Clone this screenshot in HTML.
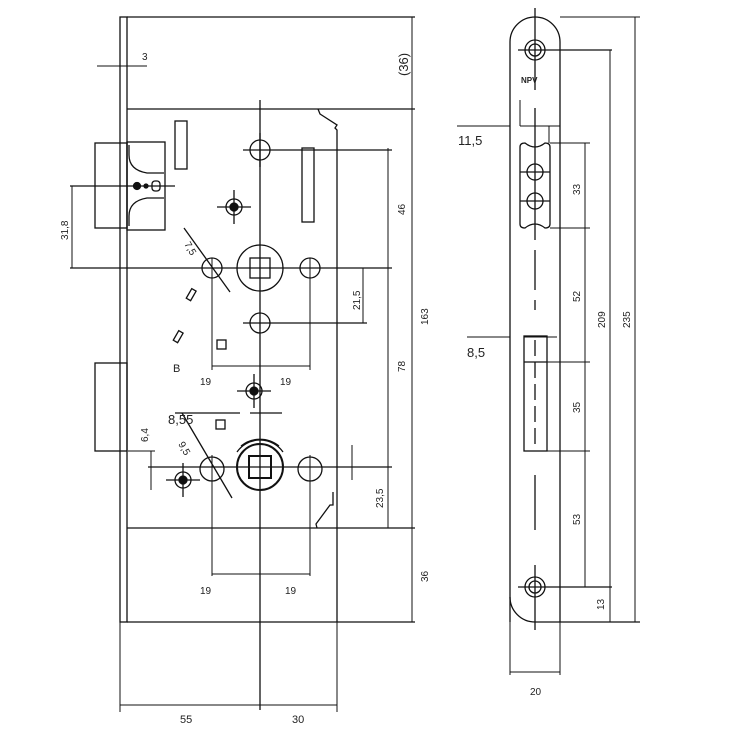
<!DOCTYPE html>
<html><head><style>body{margin:0;background:#fff}svg{display:block}text{font-family:"Liberation Sans",sans-serif;fill:#222}</style></head><body>
<svg width="735" height="735" viewBox="0 0 735 735" xmlns="http://www.w3.org/2000/svg" stroke="#111" fill="none" stroke-width="1.3">
<rect x="120" y="17" width="7" height="605" fill="#fff"/>
<line x1="127" y1="17" x2="415" y2="17"/>
<line x1="127" y1="109" x2="415" y2="109"/>
<line x1="127" y1="528" x2="415" y2="528"/>
<line x1="127" y1="622" x2="415" y2="622"/>
<polyline points="318,109 320,114 337,125 335,128 337,130 337,622"/>
<polyline points="317,528 316,524 330,505 333,505 333,492"/>
<rect x="95" y="143" width="32" height="85"/>
<rect x="127" y="142" width="38" height="88"/>
<path d="M129 145 v10 q0 15 18 18 h17 M129 226 v-10 q0 -15 18 -18 h17"/>
<circle cx="137" cy="186" r="3.5" fill="#111"/><circle cx="146" cy="186" r="2" fill="#111"/><rect x="152" y="181" width="8" height="10" rx="3"/>
<rect x="95" y="363" width="32" height="88"/>
<rect x="175" y="121" width="12" height="48"/>
<rect x="302" y="148" width="12" height="74"/>
<line x1="260" y1="100" x2="260" y2="710"/>
<line x1="70" y1="268" x2="392" y2="268"/>
<line x1="70" y1="186" x2="175" y2="186"/>
<line x1="148" y1="467" x2="392" y2="467"/>
<line x1="243" y1="150" x2="392" y2="150"/>
<line x1="243" y1="323" x2="367" y2="323"/>
<circle cx="260" cy="150" r="10"/><line x1="260" y1="133" x2="260" y2="167"/>
<circle cx="234" cy="207" r="8"/><circle cx="234" cy="207" r="4" fill="#111"/><line x1="217" y1="207" x2="251" y2="207"/><line x1="234" y1="190" x2="234" y2="224"/>
<circle cx="260" cy="268" r="23"/><rect x="250" y="258" width="20" height="20"/>
<circle cx="212" cy="268" r="10"/><circle cx="310" cy="268" r="10"/>
<circle cx="260" cy="323" r="10"/>
<circle cx="254" cy="391" r="8"/><circle cx="254" cy="391" r="4" fill="#111"/><line x1="237" y1="391" x2="271" y2="391"/><line x1="254" y1="374" x2="254" y2="408"/>
<circle cx="260" cy="467" r="23" stroke-width="2"/><rect x="249" y="456" width="22" height="22" stroke-width="2"/>
<path d="M237 452 a28 28 0 0 1 46 0 M241 446 a30 30 0 0 1 38 0"/>
<circle cx="212" cy="469" r="12"/><circle cx="310" cy="469" r="12"/>
<circle cx="183" cy="480" r="8"/><circle cx="183" cy="480" r="4" fill="#111"/><line x1="166" y1="480" x2="200" y2="480"/><line x1="183" y1="463" x2="183" y2="497"/>
<rect x="189" y="289" width="5" height="11" transform="rotate(30 191 294)"/>
<rect x="176" y="331" width="5" height="11" transform="rotate(30 178 336)"/>
<rect x="217" y="340" width="9" height="9"/><rect x="216" y="420" width="9" height="9"/>
<line x1="184" y1="228" x2="230" y2="292"/><line x1="182" y1="413" x2="232" y2="498"/>
<line x1="175" y1="413" x2="240" y2="413"/><line x1="250" y1="413" x2="282" y2="413"/>
<g stroke-width="1">
<line x1="212" y1="258" x2="212" y2="370"/><line x1="310" y1="258" x2="310" y2="370"/><line x1="212" y1="366" x2="310" y2="366"/>
<line x1="212" y1="455" x2="212" y2="576"/><line x1="310" y1="455" x2="310" y2="576"/><line x1="212" y1="574" x2="310" y2="574"/>
<line x1="388" y1="148" x2="388" y2="528"/><line x1="412" y1="17" x2="412" y2="622"/><line x1="363" y1="268" x2="363" y2="323"/>
<line x1="352" y1="445" x2="352" y2="480"/>
<line x1="120" y1="622" x2="120" y2="712"/><line x1="337" y1="622" x2="337" y2="712"/>
<line x1="120" y1="705" x2="337" y2="705"/>
<line x1="97" y1="66" x2="147" y2="66"/>
<line x1="72" y1="186" x2="72" y2="268"/>
<line x1="151" y1="451" x2="151" y2="490"/><line x1="128" y1="451" x2="155" y2="451"/>
</g>
<g stroke="none" font-size="10">
<text x="142" y="60">3</text>
<text x="200" y="385">19</text><text x="280" y="385">19</text>
<text x="200" y="594">19</text><text x="285" y="594">19</text>
<text x="173" y="372" font-size="11">B</text>
<text x="168" y="424" font-size="13">8,55</text>
<text x="180" y="723" font-size="11">55</text>
<text x="292" y="723" font-size="11">30</text>
<text transform="translate(405,215) rotate(-90)">46</text>
<text transform="translate(405,372) rotate(-90)">78</text>
<text transform="translate(383,508) rotate(-90)">23,5</text>
<text transform="translate(360,310) rotate(-90)">21,5</text>
<text transform="translate(428,325) rotate(-90)">163</text>
<text transform="translate(428,582) rotate(-90)">36</text>
<text transform="translate(408,76) rotate(-90)" font-size="13">(36)</text>
<text transform="translate(68,240) rotate(-90)">31,8</text>
<text transform="translate(148,442) rotate(-90)">6,4</text>
<text transform="translate(184,244) rotate(60)">7,5</text>
<text transform="translate(178,444) rotate(60)">9,5</text>
</g>
<path d="M510 622 V42 a25 25 0 0 1 50 0 V622"/>
<path d="M510 597 a25 25 0 0 0 25 25 H640"/>
<line x1="535" y1="8" x2="535" y2="90"/>
<circle cx="535" cy="50" r="10"/><circle cx="535" cy="50" r="6"/><line x1="518" y1="50" x2="612" y2="50"/>
<circle cx="535" cy="587" r="10"/><circle cx="535" cy="587" r="6"/><line x1="518" y1="587" x2="612" y2="587"/>
<line x1="535" y1="565" x2="535" y2="630"/>
<path d="M520 147 q0 -4 5 -4 q10 8 20 0 q5 0 5 4 v77 q0 4 -5 4 q-10 -8 -20 0 q-5 0 -5 -4 z"/>
<circle cx="535" cy="172" r="8"/><circle cx="535" cy="201" r="8"/>
<line x1="535" y1="108" x2="535" y2="240"/><line x1="520" y1="172" x2="550" y2="172"/><line x1="520" y1="201" x2="550" y2="201"/>
<line x1="535" y1="250" x2="535" y2="310" stroke-dasharray="40 10 10 10"/>
<rect x="524" y="336" width="23" height="115"/><line x1="524" y1="362" x2="547" y2="362"/>
<line x1="535" y1="340" x2="535" y2="450" stroke-dasharray="16 6"/>
<line x1="535" y1="475" x2="535" y2="530"/>
<g stroke-width="1">
<line x1="550" y1="143" x2="590" y2="143"/><line x1="550" y1="228" x2="590" y2="228"/><line x1="547" y1="362" x2="590" y2="362"/><line x1="547" y1="451" x2="590" y2="451"/>
<line x1="585" y1="143" x2="585" y2="587"/><line x1="610" y1="50" x2="610" y2="622"/><line x1="635" y1="17" x2="635" y2="622"/>
<line x1="560" y1="17" x2="640" y2="17"/>
<line x1="457" y1="126" x2="510" y2="126"/><line x1="520" y1="126" x2="560" y2="126"/><line x1="520" y1="100" x2="520" y2="126"/><line x1="549" y1="126" x2="549" y2="143"/>
<line x1="467" y1="337" x2="510" y2="337"/><line x1="524" y1="337" x2="557" y2="337"/>
<line x1="510" y1="622" x2="510" y2="675"/><line x1="560" y1="622" x2="560" y2="675"/><line x1="510" y1="672" x2="560" y2="672"/>
</g>
<g stroke="none" font-size="10">
<text x="521" y="83" font-size="8" font-weight="bold">NPV</text>
<text x="458" y="145" font-size="13">11,5</text>
<text x="467" y="357" font-size="13">8,5</text>
<text x="530" y="695">20</text>
<text transform="translate(580,195) rotate(-90)">33</text>
<text transform="translate(580,302) rotate(-90)">52</text>
<text transform="translate(580,413) rotate(-90)">35</text>
<text transform="translate(580,525) rotate(-90)">53</text>
<text transform="translate(604,610) rotate(-90)">13</text>
<text transform="translate(605,328) rotate(-90)">209</text>
<text transform="translate(630,328) rotate(-90)">235</text>
</g>
</svg>
</body></html>
